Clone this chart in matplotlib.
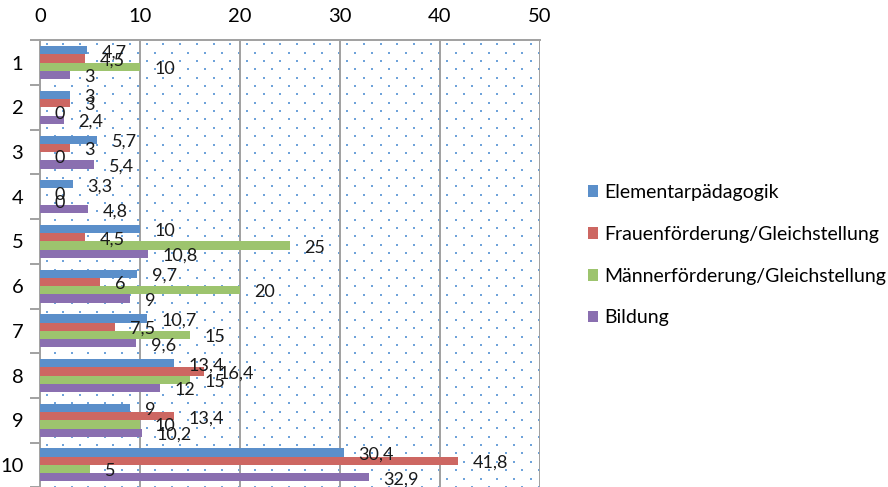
import numpy as np
import matplotlib
matplotlib.use("Agg")
import matplotlib.pyplot as plt

plt.rcParams['font.family'] = ['Lato', 'DejaVu Sans']

categories = ['1', '2', '3', '4', '5', '6', '7', '8', '9', '10']
series_names = ['Elementarpädagogik', 'Frauenförderung/Gleichstellung',
                'Männerförderung/Gleichstellung', 'Bildung']
elementar = [4.7, 3, 5.7, 3.3, 10, 9.7, 10.7, 13.4, 9, 30.4]
frauen = [4.5, 3, 3, 0, 4.5, 6, 7.5, 16.4, 13.4, 41.8]
maenner = [10, 0, 0, 0, 25, 20, 15, 15, 10, 5]
bildung = [3, 2.4, 5.4, 4.8, 10.8, 9, 9.6, 12, 10.2, 32.9]
x_ticks = [0, 10, 20, 30, 40, 50]

colors = ['#5B8FCA', '#CD6762', '#9DC46E', '#8A6FB0']
all_series = [elementar, frauen, maenner, bildung]

W, H = 888, 487
fig = plt.figure(figsize=(W / 100, H / 100), dpi=100)
ax_left, ax_right, ax_top, ax_bottom = 40, 540, 40.3, 487.3
ax = fig.add_axes([ax_left / W, (H - ax_bottom) / H,
                   (ax_right - ax_left) / W, (ax_bottom - ax_top) / H])

# dotted background pattern (staggered lattice, in pixel steps)
pw, ph = ax_right - ax_left, ax_bottom - ax_top
step = 16.7
rows = np.arange(4.0, ph, step / 2)
pts = []
for r_i, yy in enumerate(rows):
    start = 6.5 if r_i % 2 == 0 else 6.5 + step / 2
    for xx in np.arange(start, pw, step):
        pts.append((xx / pw, 1 - yy / ph))
pts = np.array(pts)
ax.scatter(pts[:, 0], pts[:, 1], s=1.8, color='#6FA3DA', marker='s',
           linewidths=0, transform=ax.transAxes, zorder=0.5, clip_on=True)

y = np.arange(len(categories))
bh = 0.185
for j, (vals, col, name) in enumerate(zip(all_series, colors, series_names)):
    pos = y + (j - 1.5) * bh
    ax.barh(pos, vals, height=bh, color=col, label=name, zorder=3)
    for p, v in zip(pos, vals):
        txt = f"{v:g}".replace('.', ',')
        ax.annotate(txt, xy=(v, p), xytext=(10.5, -1.5), textcoords='offset points',
                    ha='left', va='center', fontsize=13, color='#1a1a1a', zorder=4)

ax.set_xlim(0, 50)
ax.set_ylim(len(categories) - 0.5, -0.5)
ax.xaxis.tick_top()
ax.set_xticks(x_ticks)
ax.set_xticklabels([str(t) for t in x_ticks], fontsize=14.5)
ax.tick_params(axis='x', length=0, pad=11)
ax.set_yticks(y)
ax.set_yticklabels(categories, fontsize=14.5)
ax.tick_params(axis='y', length=0, pad=12)
ax.set_yticks(np.arange(len(categories) + 1) - 0.5, minor=True)
ax.tick_params(axis='y', which='minor', length=7, color='#9a9a9a', width=1.3)

ax.grid(axis='x', color='#a0a0a0', linewidth=1.4, zorder=1)
ax.set_axisbelow(True)
for s in ['right', 'bottom']:
    ax.spines[s].set_visible(False)
for s in ['left', 'top']:
    ax.spines[s].set_color('#a0a0a0')
    ax.spines[s].set_linewidth(1.4)
ax.set_facecolor('white')

leg = fig.legend(loc='upper left', bbox_to_anchor=(580 / W, 1 - 176 / H),
                 frameon=False, fontsize=14, handlelength=0.55, handleheight=0.55,
                 handletextpad=0.3, labelspacing=1.28, borderaxespad=0)

fig.savefig('out.png', dpi=100)
